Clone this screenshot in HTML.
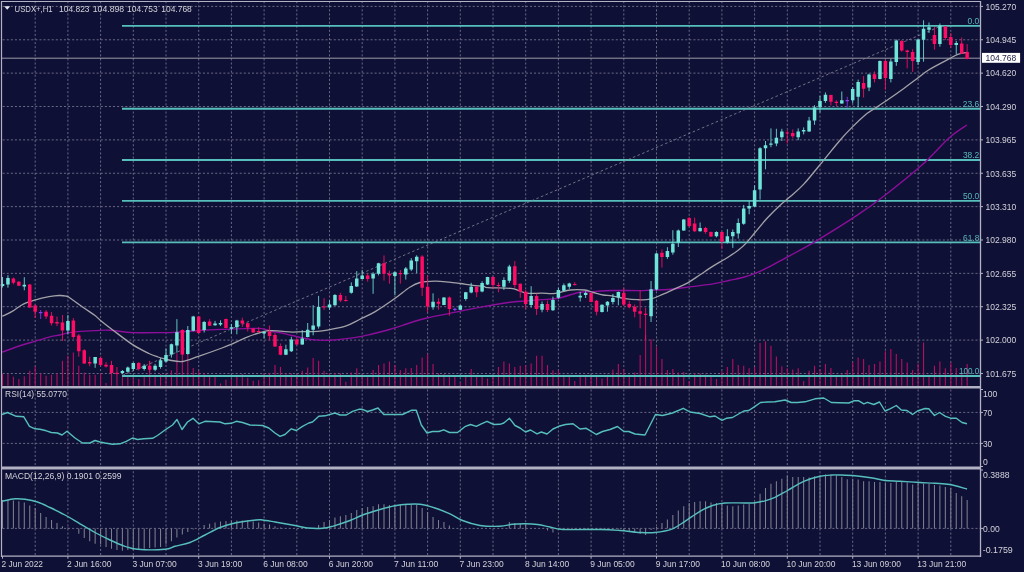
<!DOCTYPE html>
<html><head><meta charset="utf-8"><title>USDX+,H1</title>
<style>html,body{margin:0;padding:0;background:#0f1036;width:1024px;height:572px;overflow:hidden}svg{display:block}</style>
</head><body>
<svg width="1024" height="572" viewBox="0 0 1024 572"><rect width="1024" height="572" fill="#0f1036"/><g stroke="#686884" stroke-width="1" stroke-dasharray="2.04 2.0475" fill="none"><line x1="35.20" y1="1.18" x2="35.20" y2="555.5"/><line x1="67.90" y1="1.18" x2="67.90" y2="555.5"/><line x1="100.60" y1="1.18" x2="100.60" y2="555.5"/><line x1="133.30" y1="1.18" x2="133.30" y2="555.5"/><line x1="166.00" y1="1.18" x2="166.00" y2="555.5"/><line x1="198.70" y1="1.18" x2="198.70" y2="555.5"/><line x1="231.40" y1="1.18" x2="231.40" y2="555.5"/><line x1="264.10" y1="1.18" x2="264.10" y2="555.5"/><line x1="296.80" y1="1.18" x2="296.80" y2="555.5"/><line x1="329.50" y1="1.18" x2="329.50" y2="555.5"/><line x1="362.20" y1="1.18" x2="362.20" y2="555.5"/><line x1="394.90" y1="1.18" x2="394.90" y2="555.5"/><line x1="427.60" y1="1.18" x2="427.60" y2="555.5"/><line x1="460.30" y1="1.18" x2="460.30" y2="555.5"/><line x1="493.00" y1="1.18" x2="493.00" y2="555.5"/><line x1="525.70" y1="1.18" x2="525.70" y2="555.5"/><line x1="558.40" y1="1.18" x2="558.40" y2="555.5"/><line x1="591.10" y1="1.18" x2="591.10" y2="555.5"/><line x1="623.80" y1="1.18" x2="623.80" y2="555.5"/><line x1="656.50" y1="1.18" x2="656.50" y2="555.5"/><line x1="689.20" y1="1.18" x2="689.20" y2="555.5"/><line x1="721.90" y1="1.18" x2="721.90" y2="555.5"/><line x1="754.60" y1="1.18" x2="754.60" y2="555.5"/><line x1="787.30" y1="1.18" x2="787.30" y2="555.5"/><line x1="820.00" y1="1.18" x2="820.00" y2="555.5"/><line x1="852.70" y1="1.18" x2="852.70" y2="555.5"/><line x1="885.40" y1="1.18" x2="885.40" y2="555.5"/><line x1="918.10" y1="1.18" x2="918.10" y2="555.5"/><line x1="950.80" y1="1.18" x2="950.80" y2="555.5"/></g><g stroke="#686884" stroke-width="1" stroke-dasharray="2.04 2.0475" fill="none"><line x1="2.65" y1="6.40" x2="980.5" y2="6.40"/><line x1="2.65" y1="39.77" x2="980.5" y2="39.77"/><line x1="2.65" y1="73.14" x2="980.5" y2="73.14"/><line x1="2.65" y1="106.51" x2="980.5" y2="106.51"/><line x1="2.65" y1="139.88" x2="980.5" y2="139.88"/><line x1="2.65" y1="173.25" x2="980.5" y2="173.25"/><line x1="2.65" y1="206.62" x2="980.5" y2="206.62"/><line x1="2.65" y1="239.99" x2="980.5" y2="239.99"/><line x1="2.65" y1="273.36" x2="980.5" y2="273.36"/><line x1="2.65" y1="306.73" x2="980.5" y2="306.73"/><line x1="2.65" y1="340.10" x2="980.5" y2="340.10"/><line x1="2.65" y1="373.47" x2="980.5" y2="373.47"/><line x1="2.65" y1="412.4" x2="980.5" y2="412.4"/><line x1="2.65" y1="443.4" x2="980.5" y2="443.4"/><line x1="2.65" y1="528.4" x2="980.5" y2="528.4"/></g><path d="M2.50 374.0V385.8M7.95 374.0V385.8M13.40 376.8V385.8M18.85 379.0V385.8M24.30 376.2V385.8M29.75 370.7V385.8M35.20 366.5V385.8M40.65 373.5V385.8M46.10 375.7V385.8M51.55 374.8V385.8M57.00 373.2V385.8M62.45 360.7V385.8M67.90 355.8V385.8M73.35 352.4V385.8M78.80 365.7V385.8M84.25 372.4V385.8M89.70 374.8V385.8M95.15 374.8V385.8M100.60 373.5V385.8M106.05 383.1V385.8M111.50 372.4V385.8M116.95 374.8V385.8M122.40 377.3V385.8M127.85 377.3V385.8M133.30 377.8V385.8M138.75 379.0V385.8M144.20 376.2V385.8M149.65 360.7V385.8M155.10 374.8V385.8M160.55 374.0V385.8M166.00 374.0V385.8M171.45 370.2V385.8M176.90 353.3V385.8M182.35 354.0V385.8M187.80 353.3V385.8M193.25 367.9V385.8M198.70 370.7V385.8M204.15 373.2V385.8M209.60 376.2V385.8M215.05 377.3V385.8M220.50 383.5V385.8M225.95 379.8V385.8M231.40 379.0V385.8M236.85 376.5V385.8M242.30 374.0V385.8M247.75 377.8V385.8M253.20 380.7V385.8M258.65 380.2V385.8M264.10 373.2V385.8M269.55 373.2V385.8M275.00 364.9V385.8M280.45 366.9V385.8M285.90 373.2V385.8M291.35 373.2V385.8M296.80 374.0V385.8M302.25 370.7V385.8M307.70 367.4V385.8M313.15 357.9V385.8M318.60 360.7V385.8M324.05 370.7V385.8M329.50 373.2V385.8M334.95 373.2V385.8M340.40 373.2V385.8M345.85 381.8V385.8M351.30 372.4V385.8M356.75 368.2V385.8M362.20 374.0V385.8M367.65 377.3V385.8M373.10 369.9V385.8M378.55 364.9V385.8M384.00 363.6V385.8M389.45 361.6V385.8M394.90 364.9V385.8M400.35 369.9V385.8M405.80 368.2V385.8M411.25 367.9V385.8M416.70 364.9V385.8M422.15 357.4V385.8M427.60 354.1V385.8M433.05 364.0V385.8M438.50 373.2V385.8M443.95 374.0V385.8M449.40 374.8V385.8M454.85 376.5V385.8M460.30 382.3V385.8M465.75 376.5V385.8M471.20 369.0V385.8M476.65 374.8V385.8M482.10 376.5V385.8M487.55 378.5V385.8M493.00 374.8V385.8M498.45 366.9V385.8M503.90 361.6V385.8M509.35 363.6V385.8M514.80 366.9V385.8M520.25 365.7V385.8M525.70 365.2V385.8M531.15 363.6V385.8M536.60 355.8V385.8M542.05 355.8V385.8M547.50 364.9V385.8M552.95 370.2V385.8M558.40 370.2V385.8M563.85 374.8V385.8M569.30 374.8V385.8M574.75 381.1V385.8M580.20 374.8V385.8M585.65 374.8V385.8M591.10 374.8V385.8M596.55 376.5V385.8M602.00 378.5V385.8M607.45 374.8V385.8M612.90 369.5V385.8M618.35 364.0V385.8M623.80 369.0V385.8M629.25 374.8V385.8M634.70 372.4V385.8M640.15 354.9V385.8M645.60 335.0V385.8M651.05 339.2V385.8M656.50 347.0V385.8M661.95 359.1V385.8M667.40 369.9V385.8M672.85 369.0V385.8M678.30 372.4V385.8M683.75 371.9V385.8M689.20 381.1V385.8M694.65 373.2V385.8M700.10 373.5V385.8M705.55 374.5V385.8M711.00 376.5V385.8M716.45 379.0V385.8M721.90 371.2V385.8M727.35 366.9V385.8M732.80 359.1V385.8M738.25 364.9V385.8M743.70 365.7V385.8M749.15 368.2V385.8M754.60 366.9V385.8M760.05 343.0V385.8M765.50 341.3V385.8M770.95 345.8V385.8M776.40 356.6V385.8M781.85 366.2V385.8M787.30 368.2V385.8M792.75 369.5V385.8M798.20 368.2V385.8M803.65 381.1V385.8M809.10 370.7V385.8M814.55 365.7V385.8M820.00 369.0V385.8M825.45 364.0V385.8M830.90 367.9V385.8M836.35 374.8V385.8M841.80 373.5V385.8M847.25 369.9V385.8M852.70 361.9V385.8M858.15 357.4V385.8M863.60 359.1V385.8M869.05 364.9V385.8M874.50 364.0V385.8M879.95 361.6V385.8M885.40 351.3V385.8M890.85 349.1V385.8M896.30 354.1V385.8M901.75 359.1V385.8M907.20 362.4V385.8M912.65 369.9V385.8M918.10 363.6V385.8M923.55 342.5V385.8M929.00 376.5V385.8M934.45 365.7V385.8M939.90 361.6V385.8M945.35 368.2V385.8M950.80 362.4V385.8M956.25 367.9V385.8M961.70 372.4V385.8M967.15 364.0V385.8" stroke="#b80e60" stroke-width="1.1" fill="none"/><path d="M122 25.9H980.5M122 108.8H980.5M122 160.0H980.5M122 200.9H980.5M122 242.4H980.5M122 376.0H980.5" stroke="#56bfbc" stroke-width="1.9" fill="none"/><line x1="2" y1="58.2" x2="980.5" y2="58.2" stroke="#9a9aa6" stroke-width="1"/><line x1="122.5" y1="375.4" x2="938" y2="27.3" stroke="#8a8a9a" stroke-width="0.8" stroke-dasharray="2.5 2.5"/><path d="M2.00,352.20C5.38,351.00 16.82,346.82 22.30,345.00C27.78,343.18 30.28,342.65 34.90,341.30C39.52,339.95 45.85,337.95 50.00,336.90C54.15,335.85 56.85,335.67 59.80,335.00C62.75,334.33 64.33,333.50 67.70,332.90C71.07,332.30 75.45,331.78 80.00,331.40C84.55,331.02 90.05,330.80 95.00,330.60C99.95,330.40 103.37,329.87 109.70,330.20C116.03,330.53 123.78,332.20 133.00,332.60C142.22,333.00 157.77,332.67 165.00,332.60C172.23,332.53 170.83,332.55 176.40,332.20C181.97,331.85 190.80,330.97 198.40,330.50C206.00,330.03 211.95,329.75 222.00,329.40C232.05,329.05 250.53,328.10 258.70,328.40C266.87,328.70 267.32,330.47 271.00,331.20C274.68,331.93 277.30,332.08 280.80,332.80C284.30,333.52 286.75,334.37 292.00,335.50C297.25,336.63 306.00,338.82 312.30,339.60C318.60,340.38 322.52,340.57 329.80,340.20C337.08,339.83 348.97,338.43 356.00,337.40C363.03,336.37 366.70,335.23 372.00,334.00C377.30,332.77 382.82,331.38 387.80,330.00C392.78,328.62 397.53,327.12 401.90,325.70C406.27,324.28 409.65,322.82 414.00,321.50C418.35,320.18 422.17,319.12 428.00,317.80C433.83,316.48 443.63,314.72 449.00,313.60C454.37,312.48 454.37,312.27 460.20,311.10C466.03,309.93 475.93,308.03 484.00,306.60C492.07,305.17 501.43,303.45 508.60,302.50C515.77,301.55 521.50,301.38 527.00,300.90C532.50,300.42 536.45,300.03 541.60,299.60C546.75,299.17 551.72,299.48 557.90,298.30C564.08,297.12 573.18,293.60 578.70,292.50C584.22,291.40 585.45,292.03 591.00,291.70C596.55,291.37 603.83,290.68 612.00,290.50C620.17,290.32 633.67,290.65 640.00,290.60C646.33,290.55 644.83,290.43 650.00,290.20C655.17,289.97 664.00,289.80 671.00,289.20C678.00,288.60 685.00,287.48 692.00,286.60C699.00,285.72 706.70,284.95 713.00,283.90C719.30,282.85 724.55,281.45 729.80,280.30C735.05,279.15 740.30,278.15 744.50,277.00C748.70,275.85 751.17,274.95 755.00,273.40C758.83,271.85 763.32,269.80 767.50,267.70C771.68,265.60 776.35,262.82 780.10,260.80C783.85,258.78 784.02,258.88 790.00,255.60C795.98,252.32 805.03,247.67 816.00,241.10C826.97,234.53 844.18,223.93 855.80,216.20C867.42,208.47 874.63,203.27 885.70,194.70C896.77,186.13 911.68,174.22 922.20,164.80C932.72,155.38 941.33,144.83 948.80,138.20C956.27,131.57 963.97,127.20 967.00,125.00" stroke="#8c0e9a" stroke-width="1.4" fill="none"/><path d="M2.40,316.30C4.03,315.48 8.72,313.43 12.20,311.40C15.68,309.37 19.42,306.03 23.30,304.10C27.18,302.17 31.22,301.03 35.50,299.80C39.78,298.57 45.12,297.42 49.00,296.70C52.88,295.98 55.95,295.60 58.80,295.50C61.65,295.40 64.23,295.68 66.10,296.10C67.97,296.52 67.02,296.02 70.00,298.00C72.98,299.98 79.83,305.08 84.00,308.00C88.17,310.92 92.25,313.42 95.00,315.50C97.75,317.58 97.43,318.00 100.50,320.50C103.57,323.00 107.98,326.43 113.40,330.50C118.82,334.57 127.08,341.07 133.00,344.90C138.92,348.73 144.73,351.48 148.90,353.50C153.07,355.52 155.32,356.08 158.00,357.00C160.68,357.92 163.17,358.50 165.00,359.00C166.83,359.50 166.08,359.58 169.00,360.00C171.92,360.42 177.60,362.10 182.50,361.50C187.40,360.90 191.82,358.65 198.40,356.40C204.98,354.15 216.43,350.05 222.00,348.00C227.57,345.95 227.72,345.88 231.80,344.10C235.88,342.32 241.20,339.38 246.50,337.30C251.80,335.22 259.52,332.72 263.60,331.60C267.68,330.48 268.13,330.67 271.00,330.60C273.87,330.53 277.30,330.95 280.80,331.20C284.30,331.45 289.33,332.00 292.00,332.10C294.67,332.20 292.55,331.92 296.80,331.80C301.05,331.68 312.07,331.75 317.50,331.40C322.93,331.05 324.73,330.57 329.40,329.70C334.07,328.83 341.07,327.60 345.50,326.20C349.93,324.80 353.15,322.68 356.00,321.30C358.85,319.92 359.40,319.52 362.60,317.90C365.80,316.28 369.83,314.83 375.20,311.60C380.57,308.37 389.03,302.57 394.80,298.50C400.57,294.43 405.60,289.87 409.80,287.20C414.00,284.53 415.80,283.52 420.00,282.50C424.20,281.48 430.17,281.17 435.00,281.10C439.83,281.03 444.80,281.70 449.00,282.10C453.20,282.50 456.23,282.97 460.20,283.50C464.17,284.03 468.83,284.80 472.80,285.30C476.77,285.80 481.50,286.10 484.00,286.50C486.50,286.90 483.30,287.38 487.80,287.70C492.30,288.02 505.90,287.93 511.00,288.40C516.10,288.87 515.73,289.70 518.40,290.50C521.07,291.30 523.13,292.75 527.00,293.20C530.87,293.65 536.85,293.17 541.60,293.20C546.35,293.23 550.73,293.93 555.50,293.40C560.27,292.87 565.32,290.57 570.20,290.00C575.08,289.43 580.93,289.58 584.80,290.00C588.67,290.42 590.33,291.67 593.40,292.50C596.47,293.33 600.10,294.45 603.20,295.00C606.30,295.55 608.62,295.25 612.00,295.80C615.38,296.35 619.25,297.65 623.50,298.30C627.75,298.95 633.08,299.55 637.50,299.70C641.92,299.85 645.82,300.08 650.00,299.20C654.18,298.32 658.40,296.15 662.60,294.40C666.80,292.65 671.00,290.62 675.20,288.70C679.40,286.78 683.60,285.27 687.80,282.90C692.00,280.53 696.20,277.30 700.40,274.50C704.60,271.70 708.80,268.73 713.00,266.10C717.20,263.47 721.40,261.33 725.60,258.70C729.80,256.07 734.70,252.98 738.20,250.30C741.70,247.62 743.80,245.57 746.60,242.60C749.40,239.63 751.52,236.63 755.00,232.50C758.48,228.37 763.32,222.35 767.50,217.80C771.68,213.25 776.35,208.70 780.10,205.20C783.85,201.70 786.02,200.35 790.00,196.80C793.98,193.25 798.33,190.07 804.00,183.90C809.67,177.73 818.03,167.03 824.00,159.80C829.97,152.57 835.13,145.90 839.80,140.50C844.47,135.10 847.63,131.77 852.00,127.40C856.37,123.03 862.60,117.20 866.00,114.30C869.40,111.40 869.02,112.25 872.40,110.00C875.78,107.75 881.07,104.38 886.30,100.80C891.53,97.22 898.55,92.30 903.80,88.50C909.05,84.70 913.60,81.13 917.80,78.00C922.00,74.87 923.53,73.02 929.00,69.70C934.47,66.38 945.68,60.70 950.60,58.10C955.52,55.50 955.73,55.05 958.50,54.10C961.27,53.15 965.75,52.68 967.20,52.40" stroke="#a2a2a8" stroke-width="1.3" fill="none"/><path d="M2.50 277.0V287.5M7.95 275.2V287.7M24.30 277.2V290.3M67.90 315.0V334.4M95.15 357.0V367.8M122.40 370.0V374.3M127.85 366.5V372.4M133.30 362.6V370.6M144.20 364.1V370.6M155.10 363.9V371.2M160.55 358.3V368.7M166.00 348.5V362.5M171.45 343.6V357.6M176.90 319.1V352.7M187.80 326.0V354.6M193.25 315.8V331.3M204.15 320.9V332.5M215.05 320.9V325.8M220.50 320.3V326.0M231.40 323.9V333.7M236.85 319.8V334.3M264.10 331.2V338.6M285.90 344.7V355.1M291.35 336.8V352.0M302.25 330.0V344.9M307.70 323.0V337.4M313.15 305.2V335.3M318.60 295.9V328.6M329.50 300.3V309.9M334.95 294.1V305.9M351.30 282.4V293.7M356.75 271.1V286.9M362.20 269.9V279.3M373.10 272.2V293.8M378.55 262.8V275.4M394.90 271.5V295.1M405.80 267.0V279.6M411.25 258.1V271.1M416.70 255.3V273.1M433.05 293.3V309.7M443.95 297.1V305.2M460.30 304.9V310.1M465.75 291.9V300.7M471.20 282.8V293.3M482.10 281.2V292.3M487.55 276.8V285.0M503.90 277.3V289.9M509.35 264.8V282.9M531.15 286.2V307.6M542.05 301.5V312.3M552.95 296.6V310.9M558.40 287.6V298.7M563.85 283.4V291.3M569.30 282.7V288.9M580.20 291.9V301.5M585.65 291.3V298.0M602.00 304.4V312.5M607.45 301.1V311.7M612.90 293.9V304.4M618.35 291.6V305.3M651.05 281.0V322.0M656.50 252.8V290.4M667.40 247.2V258.9M672.85 230.2V254.7M678.30 229.5V247.0M683.75 219.0V230.9M700.10 222.5V231.6M716.45 231.3V237.4M727.35 229.2V243.5M732.80 229.5V247.9M738.25 218.5V238.5M743.70 204.9V224.8M749.15 200.7V214.3M754.60 185.4V207.0M760.05 147.2V199.6M765.50 141.0V169.3M770.95 128.4V147.2M776.40 128.8V146.2M781.85 128.8V141.0M798.20 128.4V140.2M803.65 127.4V134.4M809.10 116.9V131.8M814.55 105.2V124.8M820.00 95.9V112.5M825.45 92.4V102.9M841.80 91.5V103.8M852.70 87.1V103.4M858.15 79.6V107.3M869.05 73.6V91.1M879.95 60.5V79.4M890.85 58.8V82.4M896.30 39.5V65.8M918.10 39.2V64.9M923.55 20.3V61.7M929.00 22.5V33.0M939.90 23.5V46.7M956.25 41.0V54.1" stroke="#6fe4d9" stroke-width="1.0" fill="none" opacity="0.85"/><path d="M13.40 277.5V284.4M18.85 281.0V286.0M29.75 284.0V308.0M35.20 304.4V318.0M46.10 310.0V319.0M51.55 312.0V325.5M57.00 316.5V326.2M62.45 315.0V341.0M73.35 318.0V338.8M78.80 334.0V356.7M84.25 349.2V364.0M89.70 356.7V366.3M100.60 356.5V366.3M106.05 362.0V367.5M111.50 360.8V373.6M116.95 367.0V375.0M138.75 362.0V370.6M149.65 361.2V372.0M182.35 329.2V355.2M198.70 316.0V333.4M209.60 319.1V326.0M225.95 318.5V328.5M242.30 317.7V326.9M247.75 322.6V331.6M253.20 327.9V332.8M258.65 327.2V333.0M269.55 325.5V340.4M275.00 333.0V346.8M280.45 343.5V355.3M296.80 338.4V344.9M324.05 298.2V309.9M340.40 292.9V302.0M345.85 295.9V301.7M367.65 273.3V281.7M384.00 255.4V280.6M389.45 270.7V283.7M400.35 269.9V283.7M422.15 255.1V296.1M427.60 275.5V312.2M438.50 298.2V309.7M449.40 296.5V315.7M476.65 286.3V297.1M493.00 276.4V288.7M498.45 282.5V292.3M514.80 261.1V287.8M520.25 283.4V297.8M525.70 289.9V308.9M536.60 293.6V315.0M547.50 300.5V312.1M574.75 282.1V285.6M591.10 292.5V302.3M596.55 299.9V315.4M623.80 287.4V306.1M629.25 301.0V308.3M634.70 304.4V317.3M640.15 290.5V328.3M645.60 307.8V340.0M661.95 249.3V267.6M689.20 216.9V226.9M694.65 217.6V232.1M705.55 226.9V233.9M711.00 231.6V236.9M721.90 231.6V248.8M787.30 130.1V143.5M792.75 129.4V138.4M830.90 94.7V105.5M836.35 100.3V106.4M863.60 76.0V97.5M874.50 71.4V82.4M885.40 59.6V89.9M901.75 39.9V51.8M907.20 49.7V68.4M912.65 49.1V71.9M934.45 27.0V49.7M945.35 26.1V40.0M950.80 32.9V48.0M961.70 37.5V53.7M967.15 44.1V59.4" stroke="#ff0c64" stroke-width="1.0" fill="none" opacity="0.85"/><path d="M40.65 310.0V319.0M454.85 307.7V311.1M847.25 96.8V107.6" stroke="#8a3cf0" stroke-width="0.85" fill="none"/><path d="M38.90 312.6h3.5M453.10 309.4h3.5M845.50 100.6h3.5" stroke="#8a3cf0" stroke-width="1.1" fill="none"/><path d="M0.75 284.0h3.5v2.00h-3.5zM6.20 277.9h3.5v6.50h-3.5zM22.55 284.8h3.5v1.60h-3.5zM66.15 321.0h3.5v9.40h-3.5zM93.40 357.1h3.5v6.50h-3.5zM120.65 371.0h3.5v2.00h-3.5zM126.10 367.5h3.5v4.30h-3.5zM131.55 362.9h3.5v6.10h-3.5zM142.45 365.7h3.5v3.30h-3.5zM153.35 365.7h3.5v4.00h-3.5zM158.80 360.2h3.5v6.70h-3.5zM164.25 355.0h3.5v6.50h-3.5zM169.70 344.2h3.5v10.40h-3.5zM175.15 332.2h3.5v13.20h-3.5zM186.05 330.1h3.5v23.90h-3.5zM191.50 316.6h3.5v14.10h-3.5zM202.40 321.9h3.5v8.20h-3.5zM213.30 323.4h3.5v1.80h-3.5zM218.75 323.1h3.5v1.50h-3.5zM229.65 327.2h3.5v1.60h-3.5zM235.10 320.6h3.5v6.60h-3.5zM262.35 332.1h3.5v1.40h-3.5zM284.15 349.2h3.5v5.60h-3.5zM289.60 339.4h3.5v11.80h-3.5zM300.50 338.4h3.5v6.00h-3.5zM305.95 329.7h3.5v7.30h-3.5zM311.40 325.6h3.5v4.10h-3.5zM316.85 306.9h3.5v19.60h-3.5zM327.75 304.6h3.5v3.00h-3.5zM333.20 295.0h3.5v10.20h-3.5zM349.55 285.9h3.5v6.90h-3.5zM355.00 278.5h3.5v7.90h-3.5zM360.45 275.4h3.5v3.60h-3.5zM371.35 273.8h3.5v4.70h-3.5zM376.80 263.3h3.5v10.50h-3.5zM393.15 272.2h3.5v3.70h-3.5zM404.05 268.6h3.5v6.00h-3.5zM409.50 260.5h3.5v9.10h-3.5zM414.95 256.7h3.5v4.60h-3.5zM431.30 301.7h3.5v5.60h-3.5zM442.20 297.5h3.5v7.40h-3.5zM458.55 305.5h3.5v4.20h-3.5zM464.00 292.3h3.5v6.60h-3.5zM469.45 286.7h3.5v5.90h-3.5zM480.35 283.0h3.5v8.40h-3.5zM485.80 277.0h3.5v7.40h-3.5zM502.15 280.1h3.5v6.70h-3.5zM507.60 266.6h3.5v14.10h-3.5zM529.40 296.0h3.5v8.90h-3.5zM540.30 304.0h3.5v5.80h-3.5zM551.20 299.9h3.5v10.40h-3.5zM556.65 290.1h3.5v7.70h-3.5zM562.10 285.2h3.5v5.50h-3.5zM567.55 283.6h3.5v3.20h-3.5zM578.45 295.8h3.5v1.60h-3.5zM583.90 292.9h3.5v2.10h-3.5zM600.25 304.8h3.5v7.30h-3.5zM605.70 301.8h3.5v3.80h-3.5zM611.15 297.9h3.5v4.20h-3.5zM616.60 292.1h3.5v5.30h-3.5zM649.30 289.2h3.5v27.00h-3.5zM654.75 253.6h3.5v35.90h-3.5zM665.65 251.0h3.5v6.10h-3.5zM671.10 243.8h3.5v8.70h-3.5zM676.55 230.4h3.5v12.20h-3.5zM682.00 219.4h3.5v11.00h-3.5zM698.35 228.1h3.5v3.20h-3.5zM714.70 232.1h3.5v4.10h-3.5zM725.60 236.2h3.5v6.40h-3.5zM731.05 232.1h3.5v4.10h-3.5zM736.50 223.0h3.5v10.50h-3.5zM741.95 208.5h3.5v15.30h-3.5zM747.40 205.9h3.5v2.60h-3.5zM752.85 190.2h3.5v16.20h-3.5zM758.30 148.3h3.5v41.30h-3.5zM763.75 145.2h3.5v3.10h-3.5zM769.20 143.5h3.5v1.20h-3.5zM774.65 137.8h3.5v5.70h-3.5zM780.10 131.5h3.5v5.70h-3.5zM796.45 131.5h3.5v5.70h-3.5zM801.90 130.0h3.5v1.40h-3.5zM807.35 120.4h3.5v11.00h-3.5zM812.80 107.6h3.5v12.80h-3.5zM818.25 101.1h3.5v6.20h-3.5zM823.70 94.7h3.5v6.40h-3.5zM840.05 100.3h3.5v3.10h-3.5zM850.95 88.9h3.5v11.40h-3.5zM856.40 81.9h3.5v14.90h-3.5zM867.30 74.5h3.5v13.10h-3.5zM878.20 60.9h3.5v18.00h-3.5zM889.10 61.4h3.5v17.50h-3.5zM894.55 40.4h3.5v21.50h-3.5zM916.35 39.5h3.5v22.40h-3.5zM921.80 28.7h3.5v11.10h-3.5zM927.25 27.2h3.5v2.60h-3.5zM938.15 25.7h3.5v18.40h-3.5zM954.50 42.9h3.5v2.00h-3.5z" fill="#6fe4d9"/><path d="M11.65 278.5h3.5v4.20h-3.5zM17.10 281.8h3.5v3.90h-3.5zM28.00 284.4h3.5v23.00h-3.5zM33.45 305.4h3.5v6.30h-3.5zM44.35 311.8h3.5v4.70h-3.5zM49.80 315.8h3.5v7.40h-3.5zM55.25 322.0h3.5v1.50h-3.5zM60.70 322.5h3.5v7.90h-3.5zM71.60 320.6h3.5v16.30h-3.5zM77.05 335.4h3.5v15.80h-3.5zM82.50 350.3h3.5v13.30h-3.5zM87.95 361.9h3.5v1.70h-3.5zM98.85 358.0h3.5v7.00h-3.5zM104.30 364.8h3.5v1.70h-3.5zM109.75 365.0h3.5v8.00h-3.5zM115.20 372.7h3.5v1.20h-3.5zM137.00 362.9h3.5v6.10h-3.5zM147.90 365.7h3.5v4.00h-3.5zM180.60 330.1h3.5v24.50h-3.5zM196.95 316.6h3.5v16.30h-3.5zM207.85 321.5h3.5v4.30h-3.5zM224.20 319.0h3.5v9.00h-3.5zM240.55 320.6h3.5v2.90h-3.5zM246.00 323.3h3.5v4.20h-3.5zM251.45 328.4h3.5v4.00h-3.5zM256.90 331.0h3.5v1.10h-3.5zM267.80 331.6h3.5v4.50h-3.5zM273.25 334.9h3.5v11.60h-3.5zM278.70 345.9h3.5v8.90h-3.5zM295.05 339.6h3.5v4.80h-3.5zM322.30 306.4h3.5v1.20h-3.5zM338.65 295.0h3.5v5.60h-3.5zM344.10 299.9h3.5v1.20h-3.5zM365.90 275.4h3.5v3.60h-3.5zM382.25 263.3h3.5v10.50h-3.5zM387.70 273.8h3.5v1.60h-3.5zM398.60 273.0h3.5v1.30h-3.5zM420.40 256.5h3.5v31.20h-3.5zM425.85 286.7h3.5v19.90h-3.5zM436.75 301.7h3.5v2.10h-3.5zM447.65 297.5h3.5v11.60h-3.5zM474.90 286.7h3.5v5.60h-3.5zM491.25 277.0h3.5v8.00h-3.5zM496.70 285.0h3.5v0.90h-3.5zM513.05 266.3h3.5v18.70h-3.5zM518.50 283.8h3.5v7.90h-3.5zM523.95 291.7h3.5v12.30h-3.5zM534.85 296.0h3.5v12.90h-3.5zM545.75 303.9h3.5v6.00h-3.5zM573.00 284.0h3.5v0.90h-3.5zM589.35 292.9h3.5v9.10h-3.5zM594.80 300.7h3.5v11.10h-3.5zM622.05 293.0h3.5v11.40h-3.5zM627.50 303.9h3.5v3.40h-3.5zM632.95 306.8h3.5v4.90h-3.5zM638.40 311.3h3.5v2.50h-3.5zM643.85 313.8h3.5v1.10h-3.5zM660.20 252.8h3.5v4.30h-3.5zM687.45 218.1h3.5v7.90h-3.5zM692.90 223.4h3.5v7.90h-3.5zM703.80 228.1h3.5v4.00h-3.5zM709.25 232.1h3.5v4.40h-3.5zM720.15 232.1h3.5v9.70h-3.5zM785.55 132.6h3.5v0.90h-3.5zM791.00 133.0h3.5v3.30h-3.5zM829.15 95.0h3.5v6.70h-3.5zM834.60 101.7h3.5v1.20h-3.5zM861.85 83.0h3.5v5.70h-3.5zM872.75 74.2h3.5v4.70h-3.5zM883.65 60.9h3.5v17.10h-3.5zM900.00 40.9h3.5v9.50h-3.5zM905.45 50.4h3.5v1.70h-3.5zM910.90 52.1h3.5v8.80h-3.5zM932.70 35.0h3.5v9.10h-3.5zM943.60 26.6h3.5v11.30h-3.5zM949.05 37.1h3.5v7.80h-3.5zM959.95 43.4h3.5v10.30h-3.5zM965.40 51.9h3.5v7.00h-3.5z" fill="#ff0c64"/><polyline points="2.00,414.50 7.50,412.50 16.30,416.30 23.80,416.80 29.50,426.30 35.00,428.80 40.00,429.30 46.30,430.80 51.30,432.50 57.50,433.00 62.00,435.00 67.00,431.30 75.00,438.00 82.50,443.00 90.00,443.00 95.00,440.50 100.00,442.00 105.00,443.00 112.50,444.30 120.00,443.80 126.30,441.30 132.50,438.00 137.50,439.50 143.80,438.80 152.50,438.30 157.50,435.50 165.00,430.00 172.50,425.00 177.00,419.50 182.00,429.50 187.50,422.00 193.00,418.30 198.80,423.80 205.00,421.30 215.00,421.80 220.00,422.00 225.00,423.80 231.30,423.30 236.30,421.30 242.50,422.50 250.00,425.00 262.50,425.50 268.80,428.00 275.00,433.00 280.00,436.30 285.00,434.50 291.30,428.80 296.30,430.50 302.50,426.30 308.80,423.00 312.50,422.00 318.80,416.30 325.00,415.80 335.00,413.00 340.00,415.00 346.30,415.00 352.50,411.30 358.80,409.30 362.50,409.30 367.50,411.50 372.50,410.00 378.00,408.00 383.80,414.50 402.50,414.50 411.30,410.30 416.30,410.30 421.30,425.00 427.00,433.00 432.50,431.50 438.80,431.50 443.80,429.80 449.50,432.50 457.50,432.50 465.50,426.30 470.50,424.50 476.30,426.30 481.30,423.80 487.00,421.30 493.80,424.50 500.00,424.30 503.80,423.00 509.50,418.30 515.00,425.50 520.00,428.00 525.50,432.00 530.50,430.00 537.00,433.80 541.30,432.00 547.00,434.00 553.00,429.00 558.80,426.30 565.50,424.50 573.00,423.80 580.00,429.00 586.30,428.30 596.30,434.50 602.50,431.50 610.00,429.50 617.50,426.50 623.80,431.50 628.80,431.50 635.00,434.00 645.00,435.00 655.50,414.50 662.50,415.50 672.50,413.00 683.30,408.30 690.00,412.00 700.00,413.50 710.00,416.80 715.00,416.00 722.00,420.30 726.30,418.30 732.50,417.50 743.80,411.00 748.80,410.50 755.00,406.30 760.50,402.50 767.50,402.00 775.00,401.80 785.00,400.00 791.30,402.50 797.50,402.50 805.00,401.80 815.00,398.80 823.80,398.00 831.30,402.50 848.80,403.00 853.80,400.80 858.80,400.80 863.80,403.80 867.50,402.30 873.80,404.50 879.50,402.00 885.00,411.00 890.00,408.80 896.30,405.50 901.30,410.00 907.00,410.50 912.50,414.50 917.50,411.00 925.00,408.50 928.80,408.80 934.50,415.50 939.50,412.50 945.50,416.30 951.30,418.30 956.30,418.30 962.00,422.50 967.00,423.80" stroke="#56bfbc" stroke-width="1.4" fill="none" stroke-linejoin="round"/><path d="M2.50 500V528.4M7.95 500V528.4M13.40 500.5V528.4M18.85 501.3V528.4M24.30 502.5V528.4M29.75 505.5V528.4M35.20 508V528.4M40.65 513V528.4M46.10 517V528.4M51.55 520V528.4M57.00 523V528.4M62.45 526.3V528.4M67.90 527.5V528.4M78.80 533.8V528.4M84.25 538V528.4M89.70 541.3V528.4M95.15 543.8V528.4M100.60 544.5V528.4M106.05 547V528.4M111.50 548.8V528.4M116.95 550V528.4M122.40 550.8V528.4M127.85 550V528.4M133.30 550V528.4M138.75 550V528.4M144.20 548.8V528.4M149.65 548V528.4M155.10 547.5V528.4M160.55 547V528.4M166.00 544.5V528.4M171.45 541.3V528.4M176.90 537.5V528.4M182.35 534.5V528.4M187.80 532V528.4M193.25 529.5V528.4M204.15 525V528.4M209.60 523.8V528.4M215.05 522.5V528.4M220.50 521.5V528.4M225.95 521V528.4M231.40 520.5V528.4M236.85 520.5V528.4M242.30 520.5V528.4M247.75 520.5V528.4M253.20 521.5V528.4M258.65 522.5V528.4M264.10 523.8V528.4M269.55 524.5V528.4M275.00 526.3V528.4M280.45 527.5V528.4M318.60 525V528.4M324.05 522V528.4M329.50 520V528.4M334.95 517.5V528.4M340.40 516.3V528.4M345.85 515V528.4M351.30 513V528.4M356.75 510V528.4M362.20 508V528.4M367.65 507V528.4M373.10 506.3V528.4M378.55 504.3V528.4M384.00 504.3V528.4M389.45 505V528.4M394.90 505V528.4M400.35 505V528.4M405.80 505V528.4M411.25 505V528.4M416.70 505V528.4M422.15 508V528.4M427.60 512V528.4M433.05 517V528.4M438.50 520V528.4M443.95 522V528.4M449.40 525.5V528.4M509.35 522V528.4M514.80 523V528.4M520.25 523.8V528.4M525.70 524.5V528.4M547.50 530.5V528.4M552.95 532.5V528.4M558.40 529.5V528.4M563.85 529.5V528.4M569.30 529.5V528.4M574.75 529.5V528.4M580.20 529.5V528.4M585.65 529.5V528.4M591.10 529.5V528.4M596.55 529.5V528.4M602.00 529.5V528.4M607.45 529.5V528.4M612.90 529.5V528.4M618.35 529.5V528.4M623.80 531V528.4M629.25 532V528.4M634.70 533V528.4M640.15 534V528.4M645.60 535V528.4M651.05 530V528.4M656.50 527V528.4M661.95 523V528.4M667.40 519.5V528.4M672.85 515V528.4M678.30 510.5V528.4M683.75 506.3V528.4M689.20 503V528.4M694.65 502V528.4M700.10 501.3V528.4M705.55 501.3V528.4M711.00 502.5V528.4M716.45 503V528.4M721.90 503.8V528.4M727.35 505.5V528.4M732.80 506.3V528.4M738.25 505.5V528.4M743.70 504.5V528.4M749.15 503.8V528.4M754.60 502.5V528.4M760.05 493.8V528.4M765.50 488V528.4M770.95 483.8V528.4M776.40 481.3V528.4M781.85 478.8V528.4M787.30 475.5V528.4M792.75 477V528.4M798.20 477V528.4M803.65 477V528.4M809.10 477.5V528.4M814.55 476.3V528.4M820.00 475.5V528.4M825.45 474.5V528.4M830.90 474.5V528.4M836.35 475V528.4M841.80 477V528.4M847.25 479.3V528.4M852.70 478.8V528.4M858.15 479.5V528.4M863.60 481.3V528.4M869.05 481.3V528.4M874.50 482V528.4M879.95 482V528.4M885.40 482.5V528.4M890.85 483V528.4M896.30 482V528.4M901.75 482V528.4M907.20 482.5V528.4M912.65 484.5V528.4M918.10 482.5V528.4M923.55 483.8V528.4M929.00 483.8V528.4M934.45 485V528.4M939.90 485.5V528.4M945.35 487V528.4M950.80 488V528.4M956.25 493V528.4M961.70 496.3V528.4M967.15 500V528.4" stroke="#7e7e8e" stroke-width="1.05" fill="none"/><path d="M2.00,501.30C4.17,500.88 11.17,499.13 15.00,498.80C18.83,498.47 21.25,498.77 25.00,499.30C28.75,499.83 33.33,500.63 37.50,502.00C41.67,503.37 45.42,505.33 50.00,507.50C54.58,509.67 60.00,512.28 65.00,515.00C70.00,517.72 75.00,520.88 80.00,523.80C85.00,526.72 90.00,529.80 95.00,532.50C100.00,535.20 105.00,537.70 110.00,540.00C115.00,542.30 120.42,544.75 125.00,546.30C129.58,547.85 130.83,548.80 137.50,549.30C144.17,549.80 158.75,549.80 165.00,549.30C171.25,548.80 170.83,547.43 175.00,546.30C179.17,545.17 185.00,544.38 190.00,542.50C195.00,540.62 200.00,537.50 205.00,535.00C210.00,532.50 215.00,529.50 220.00,527.50C225.00,525.50 229.00,524.25 235.00,523.00C241.00,521.75 251.42,520.50 256.00,520.00C260.58,519.50 259.33,519.67 262.50,520.00C265.67,520.33 269.58,521.08 275.00,522.00C280.42,522.92 289.58,524.50 295.00,525.50C300.42,526.50 302.92,527.53 307.50,528.00C312.08,528.47 318.33,528.58 322.50,528.30C326.67,528.02 327.92,527.60 332.50,526.30C337.08,525.00 345.00,522.38 350.00,520.50C355.00,518.62 357.50,516.83 362.50,515.00C367.50,513.17 374.58,511.03 380.00,509.50C385.42,507.97 390.42,506.67 395.00,505.80C399.58,504.93 403.33,504.55 407.50,504.30C411.67,504.05 415.42,503.68 420.00,504.30C424.58,504.92 430.00,506.42 435.00,508.00C440.00,509.58 445.42,511.72 450.00,513.80C454.58,515.88 457.50,518.55 462.50,520.50C467.50,522.45 473.75,524.53 480.00,525.50C486.25,526.47 494.58,526.50 500.00,526.30C505.42,526.10 508.33,524.72 512.50,524.30C516.67,523.88 520.83,523.77 525.00,523.80C529.17,523.83 533.33,523.97 537.50,524.50C541.67,525.03 545.83,526.17 550.00,527.00C554.17,527.83 554.17,529.08 562.50,529.50C570.83,529.92 590.42,529.33 600.00,529.50C609.58,529.67 613.33,530.00 620.00,530.50C626.67,531.00 634.17,532.17 640.00,532.50C645.83,532.83 649.58,533.12 655.00,532.50C660.42,531.88 667.50,530.67 672.50,528.80C677.50,526.93 680.42,524.22 685.00,521.30C689.58,518.38 695.42,513.93 700.00,511.30C704.58,508.67 708.33,506.88 712.50,505.50C716.67,504.12 719.58,503.42 725.00,503.00C730.42,502.58 740.00,503.03 745.00,503.00C750.00,502.97 751.67,503.17 755.00,502.80C758.33,502.43 761.67,501.72 765.00,500.80C768.33,499.88 771.25,499.02 775.00,497.30C778.75,495.58 782.70,493.17 787.50,490.50C792.30,487.83 798.38,483.67 803.80,481.30C809.22,478.93 815.22,477.35 820.00,476.30C824.78,475.25 829.17,475.22 832.50,475.00C835.83,474.78 836.25,474.87 840.00,475.00C843.75,475.13 849.58,475.30 855.00,475.80C860.42,476.30 867.50,477.22 872.50,478.00C877.50,478.78 880.42,479.95 885.00,480.50C889.58,481.05 894.17,480.97 900.00,481.30C905.83,481.63 914.17,482.17 920.00,482.50C925.83,482.83 930.00,482.97 935.00,483.30C940.00,483.63 944.67,483.55 950.00,484.50C955.33,485.45 964.17,488.25 967.00,489.00" stroke="#56bfbc" stroke-width="1.4" fill="none"/><g stroke="#b2b2c4" fill="none"><line x1="1.5" y1="1" x2="1.5" y2="557" stroke-width="1.2"/><line x1="1" y1="1.5" x2="980.5" y2="1.5" stroke-width="1.2"/><line x1="980.5" y1="1" x2="980.5" y2="557" stroke-width="1.3"/><line x1="1" y1="387.2" x2="980.5" y2="387.2" stroke-width="2.6"/><line x1="1" y1="468" x2="980.5" y2="468" stroke-width="2.8"/><line x1="1" y1="556.2" x2="980.5" y2="556.2" stroke-width="1.3"/></g><path d="M980.5 6.40h2.5M980.5 39.77h2.5M980.5 73.14h2.5M980.5 106.51h2.5M980.5 139.88h2.5M980.5 173.25h2.5M980.5 206.62h2.5M980.5 239.99h2.5M980.5 273.36h2.5M980.5 306.73h2.5M980.5 340.10h2.5M980.5 373.47h2.5M980.5 389.5h2.5M980.5 412.4h2.5M980.5 443.4h2.5M980.5 466.5h2.5M980.5 470h2.5M980.5 528.4h2.5M2.50 556.2v2.5M67.90 556.2v2.5M133.30 556.2v2.5M198.70 556.2v2.5M264.10 556.2v2.5M329.50 556.2v2.5M394.90 556.2v2.5M460.30 556.2v2.5M525.70 556.2v2.5M591.10 556.2v2.5M656.50 556.2v2.5M721.90 556.2v2.5M787.30 556.2v2.5M852.70 556.2v2.5M918.10 556.2v2.5" stroke="#b2b2c4" stroke-width="1" fill="none"/><g font-family="Liberation Sans, Arial, sans-serif"><path d="M4.2 6.3h6l-3 3.5z" fill="#e8e8ee"/><text x="14.6" y="11.5" font-size="8.7" fill="#d2d2da" text-anchor="start" textLength="38.0" lengthAdjust="spacingAndGlyphs">USDX+,H1</text><text x="59.1" y="11.5" font-size="8.7" fill="#d2d2da" text-anchor="start" textLength="30.4" lengthAdjust="spacingAndGlyphs">104.823</text><text x="92.8" y="11.5" font-size="8.7" fill="#d2d2da" text-anchor="start" textLength="31.3" lengthAdjust="spacingAndGlyphs">104.898</text><text x="127.1" y="11.5" font-size="8.7" fill="#d2d2da" text-anchor="start" textLength="30.6" lengthAdjust="spacingAndGlyphs">104.753</text><text x="161.3" y="11.5" font-size="8.7" fill="#d2d2da" text-anchor="start" textLength="30.5" lengthAdjust="spacingAndGlyphs">104.768</text><text x="985.6" y="9.70" font-size="8.7" fill="#d2d2da" text-anchor="start" textLength="30.7" lengthAdjust="spacingAndGlyphs">105.270</text><text x="985.6" y="43.07" font-size="8.7" fill="#d2d2da" text-anchor="start" textLength="30.7" lengthAdjust="spacingAndGlyphs">104.945</text><text x="985.6" y="76.44" font-size="8.7" fill="#d2d2da" text-anchor="start" textLength="30.7" lengthAdjust="spacingAndGlyphs">104.620</text><text x="985.6" y="109.81" font-size="8.7" fill="#d2d2da" text-anchor="start" textLength="30.7" lengthAdjust="spacingAndGlyphs">104.290</text><text x="985.6" y="143.18" font-size="8.7" fill="#d2d2da" text-anchor="start" textLength="30.7" lengthAdjust="spacingAndGlyphs">103.965</text><text x="985.6" y="176.55" font-size="8.7" fill="#d2d2da" text-anchor="start" textLength="30.7" lengthAdjust="spacingAndGlyphs">103.635</text><text x="985.6" y="209.92" font-size="8.7" fill="#d2d2da" text-anchor="start" textLength="30.7" lengthAdjust="spacingAndGlyphs">103.310</text><text x="985.6" y="243.29" font-size="8.7" fill="#d2d2da" text-anchor="start" textLength="30.7" lengthAdjust="spacingAndGlyphs">102.980</text><text x="985.6" y="276.66" font-size="8.7" fill="#d2d2da" text-anchor="start" textLength="30.7" lengthAdjust="spacingAndGlyphs">102.655</text><text x="985.6" y="310.03" font-size="8.7" fill="#d2d2da" text-anchor="start" textLength="30.7" lengthAdjust="spacingAndGlyphs">102.325</text><text x="985.6" y="343.40" font-size="8.7" fill="#d2d2da" text-anchor="start" textLength="30.7" lengthAdjust="spacingAndGlyphs">102.000</text><text x="985.6" y="376.77" font-size="8.7" fill="#d2d2da" text-anchor="start" textLength="30.7" lengthAdjust="spacingAndGlyphs">101.675</text><rect x="982" y="52.9" width="38.1" height="9.9" fill="#ffffff"/><text x="985.6" y="60.9" font-size="8.7" fill="#24244a" text-anchor="start" textLength="30.7" lengthAdjust="spacingAndGlyphs">104.768</text><text x="967.50" y="24.00" font-size="8.7" fill="#58b8b8" text-anchor="start" textLength="11.8" lengthAdjust="spacingAndGlyphs">0.0</text><text x="962.80" y="106.90" font-size="8.7" fill="#58b8b8" text-anchor="start" textLength="16.5" lengthAdjust="spacingAndGlyphs">23.6</text><text x="962.90" y="158.10" font-size="8.7" fill="#58b8b8" text-anchor="start" textLength="16.4" lengthAdjust="spacingAndGlyphs">38.2</text><text x="962.90" y="199.00" font-size="8.7" fill="#58b8b8" text-anchor="start" textLength="16.4" lengthAdjust="spacingAndGlyphs">50.0</text><text x="963.10" y="240.50" font-size="8.7" fill="#58b8b8" text-anchor="start" textLength="16.2" lengthAdjust="spacingAndGlyphs">61.8</text><text x="958.90" y="374.10" font-size="8.7" fill="#58b8b8" text-anchor="start" textLength="20.4" lengthAdjust="spacingAndGlyphs">100.0</text><text x="5.1" y="397.4" font-size="8.7" fill="#d2d2da" text-anchor="start" textLength="61.9" lengthAdjust="spacingAndGlyphs">RSI(14) 55.0770</text><text x="982.9" y="396.8" font-size="8.7" fill="#d2d2da" text-anchor="start" textLength="14.3" lengthAdjust="spacingAndGlyphs">100</text><text x="982.9" y="415.6" font-size="8.7" fill="#d2d2da" text-anchor="start" textLength="9.3" lengthAdjust="spacingAndGlyphs">70</text><text x="982.9" y="447.0" font-size="8.7" fill="#d2d2da" text-anchor="start" textLength="9.3" lengthAdjust="spacingAndGlyphs">30</text><text x="982.9" y="465.0" font-size="8.7" fill="#d2d2da" text-anchor="start" textLength="4.8" lengthAdjust="spacingAndGlyphs">0</text><text x="4.9" y="478.9" font-size="8.7" fill="#d2d2da" text-anchor="start" textLength="116.6" lengthAdjust="spacingAndGlyphs">MACD(12,26,9) 0.1901 0.2599</text><text x="983.1" y="477.8" font-size="8.7" fill="#d2d2da" text-anchor="start" textLength="26.4" lengthAdjust="spacingAndGlyphs">0.3888</text><text x="983.1" y="531.7" font-size="8.7" fill="#d2d2da" text-anchor="start" textLength="16.6" lengthAdjust="spacingAndGlyphs">0.00</text><text x="982.7" y="553.3" font-size="8.7" fill="#d2d2da" text-anchor="start" textLength="30.1" lengthAdjust="spacingAndGlyphs">-0.1759</text><text x="1.60" y="567.0" font-size="8.7" fill="#d2d2da" text-anchor="start" textLength="41.4" lengthAdjust="spacingAndGlyphs">2 Jun 2022</text><text x="67.10" y="567.0" font-size="8.7" fill="#d2d2da" text-anchor="start" textLength="44.3" lengthAdjust="spacingAndGlyphs">2 Jun 16:00</text><text x="132.50" y="567.0" font-size="8.7" fill="#d2d2da" text-anchor="start" textLength="44.3" lengthAdjust="spacingAndGlyphs">3 Jun 07:00</text><text x="197.90" y="567.0" font-size="8.7" fill="#d2d2da" text-anchor="start" textLength="44.3" lengthAdjust="spacingAndGlyphs">3 Jun 19:00</text><text x="263.30" y="567.0" font-size="8.7" fill="#d2d2da" text-anchor="start" textLength="44.3" lengthAdjust="spacingAndGlyphs">6 Jun 08:00</text><text x="328.70" y="567.0" font-size="8.7" fill="#d2d2da" text-anchor="start" textLength="44.3" lengthAdjust="spacingAndGlyphs">6 Jun 20:00</text><text x="394.10" y="567.0" font-size="8.7" fill="#d2d2da" text-anchor="start" textLength="44.3" lengthAdjust="spacingAndGlyphs">7 Jun 11:00</text><text x="459.50" y="567.0" font-size="8.7" fill="#d2d2da" text-anchor="start" textLength="44.3" lengthAdjust="spacingAndGlyphs">7 Jun 23:00</text><text x="524.90" y="567.0" font-size="8.7" fill="#d2d2da" text-anchor="start" textLength="44.3" lengthAdjust="spacingAndGlyphs">8 Jun 14:00</text><text x="590.30" y="567.0" font-size="8.7" fill="#d2d2da" text-anchor="start" textLength="44.3" lengthAdjust="spacingAndGlyphs">9 Jun 05:00</text><text x="655.70" y="567.0" font-size="8.7" fill="#d2d2da" text-anchor="start" textLength="44.3" lengthAdjust="spacingAndGlyphs">9 Jun 17:00</text><text x="721.10" y="567.0" font-size="8.7" fill="#d2d2da" text-anchor="start" textLength="49.0" lengthAdjust="spacingAndGlyphs">10 Jun 08:00</text><text x="786.50" y="567.0" font-size="8.7" fill="#d2d2da" text-anchor="start" textLength="49.0" lengthAdjust="spacingAndGlyphs">10 Jun 20:00</text><text x="851.90" y="567.0" font-size="8.7" fill="#d2d2da" text-anchor="start" textLength="49.0" lengthAdjust="spacingAndGlyphs">13 Jun 09:00</text><text x="917.30" y="567.0" font-size="8.7" fill="#d2d2da" text-anchor="start" textLength="49.0" lengthAdjust="spacingAndGlyphs">13 Jun 21:00</text></g></svg>
</body></html>
